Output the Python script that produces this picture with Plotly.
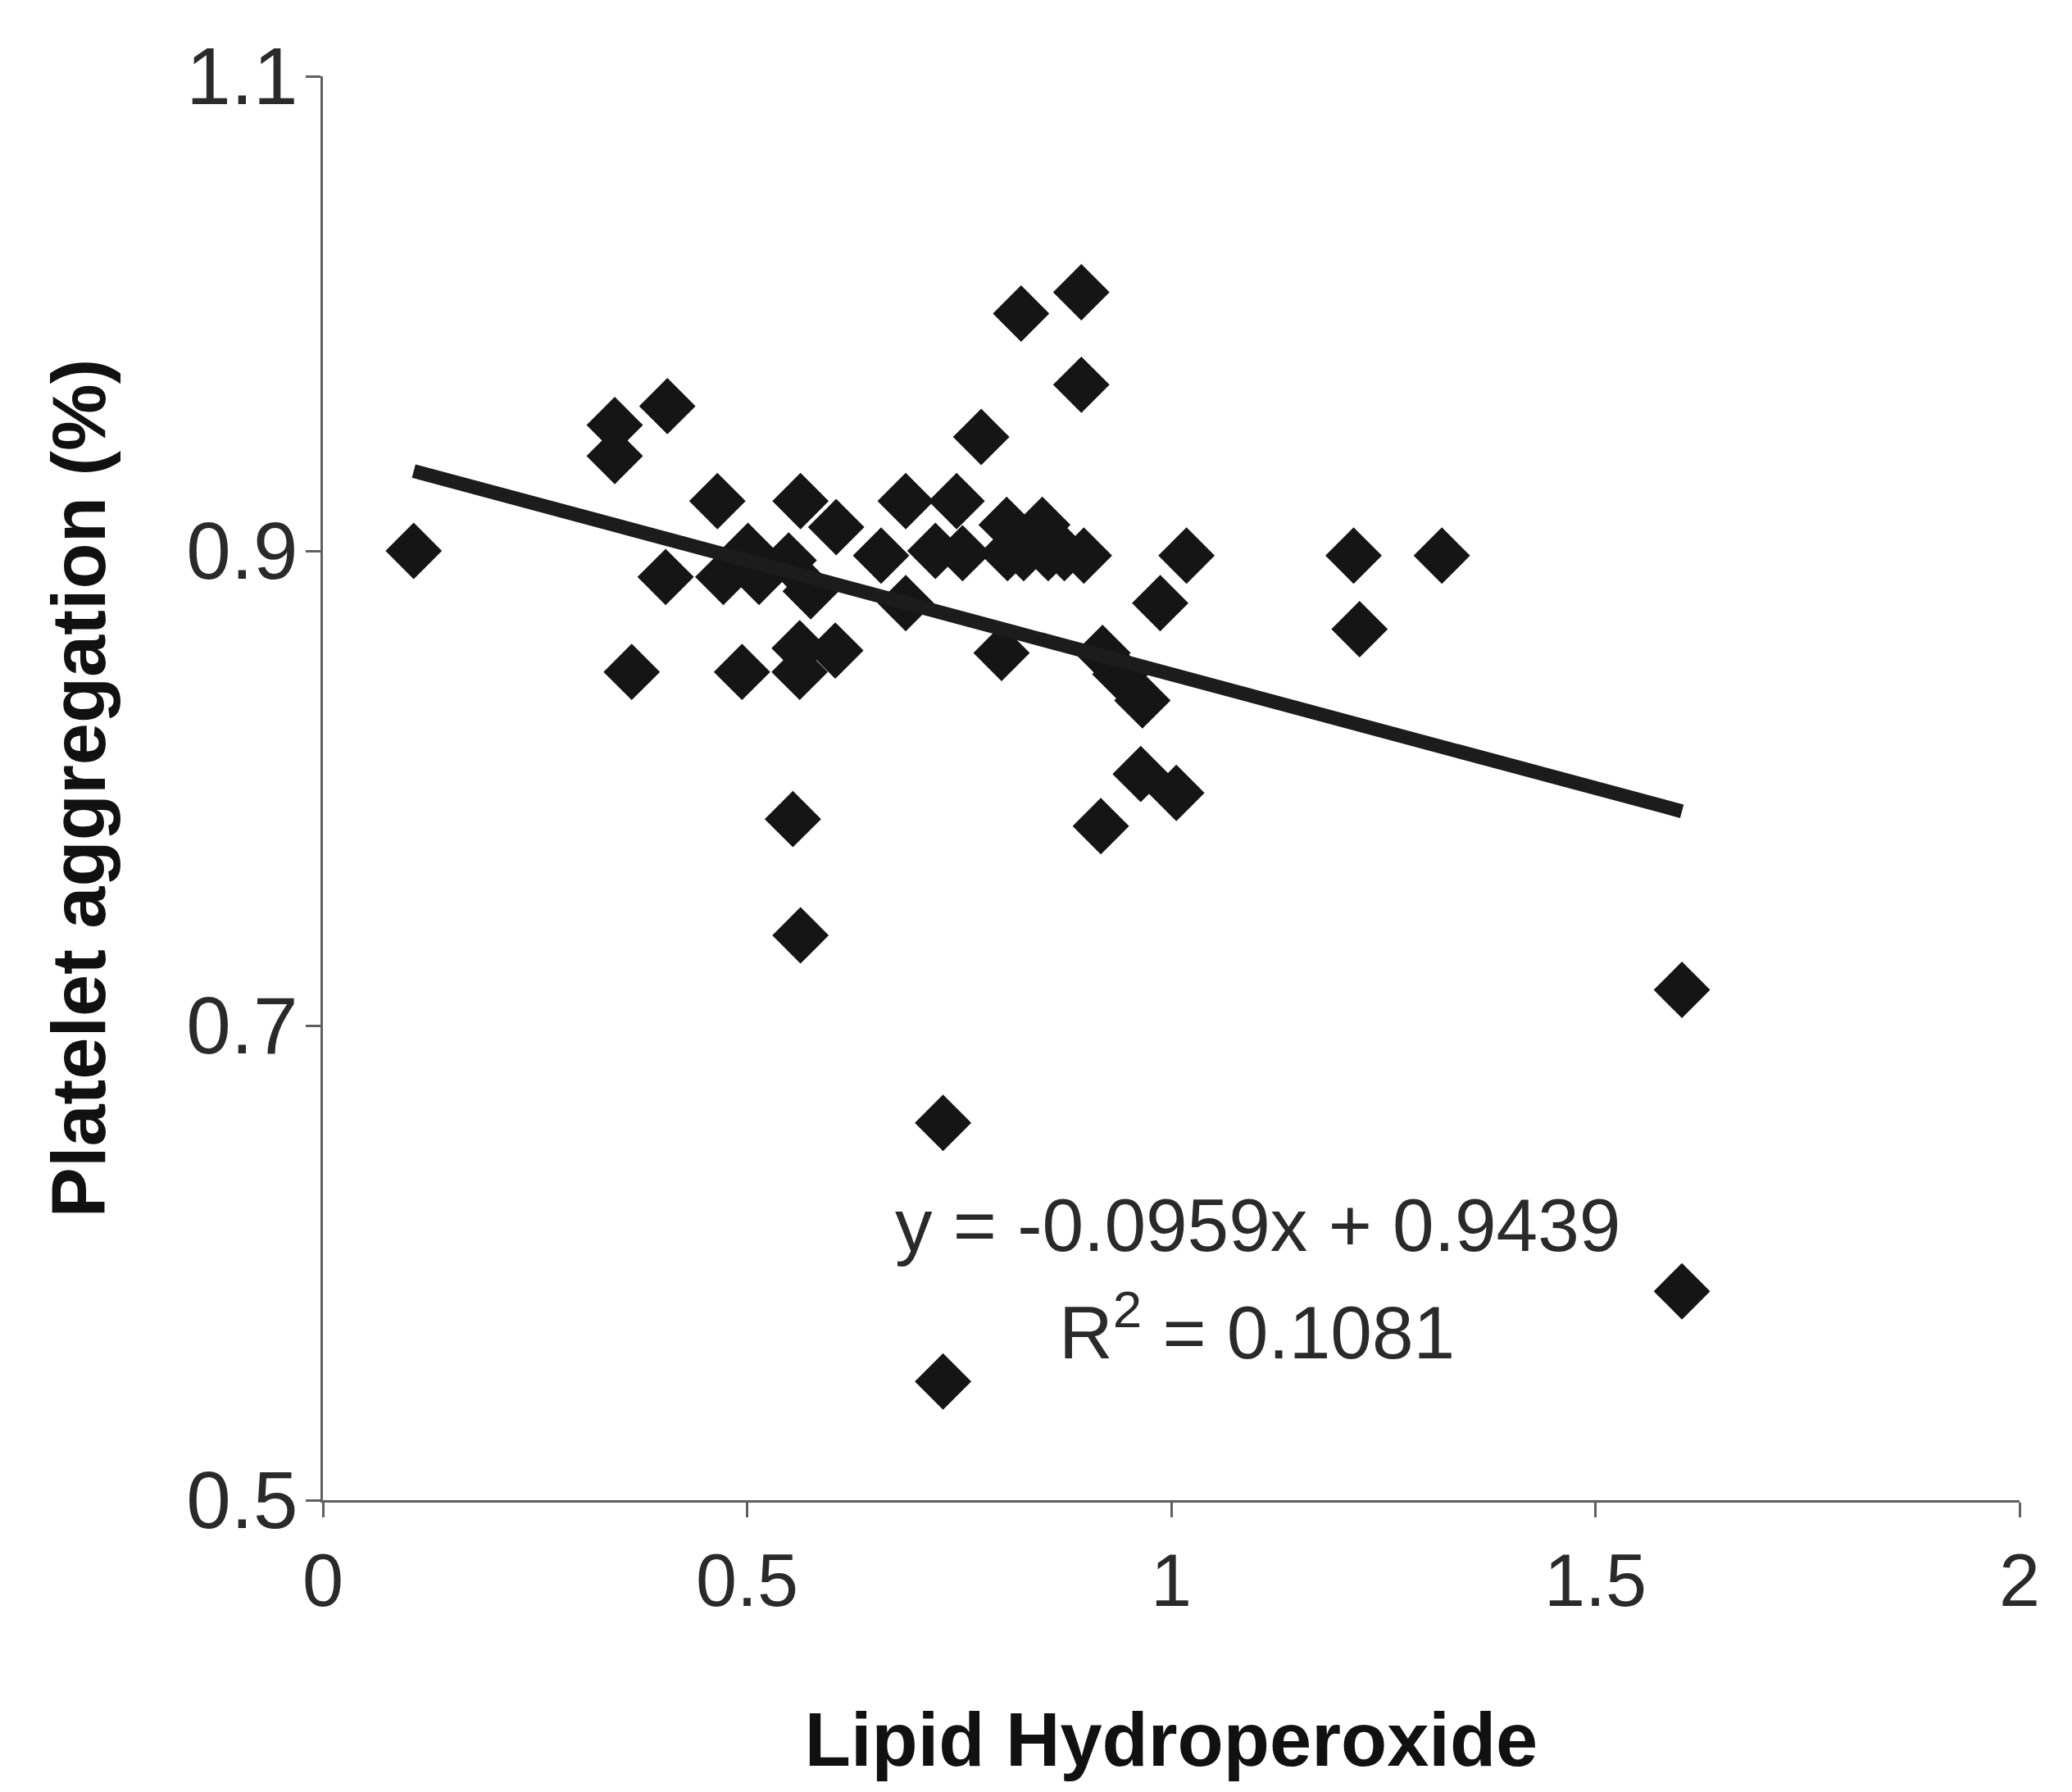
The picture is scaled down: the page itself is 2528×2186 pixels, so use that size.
import plotly.graph_objects as go

# Scatter data
lipid_hydroperoxide = [
    0.107, 0.344, 0.344, 0.406, 0.404, 0.364, 0.465, 0.472, 0.501, 0.514,
    0.494, 0.563, 0.605, 0.549, 0.575, 0.562, 0.604, 0.562, 0.554, 0.563,
    0.687, 0.747, 0.658, 0.687, 0.722, 0.754, 0.776, 0.806, 0.848, 0.807,
    0.826, 0.855, 0.874, 0.897, 0.800, 0.823, 0.894, 0.894, 0.919, 0.940,
    0.966, 0.987, 1.018, 0.964, 1.006, 0.917, 1.215, 1.222, 1.319, 1.602,
    1.602, 0.731, 0.731,
]
platelet_aggregation = [
    0.900, 0.953, 0.940, 0.961, 0.889, 0.849, 0.921, 0.889, 0.900, 0.889,
    0.849, 0.921, 0.910, 0.896, 0.883, 0.849, 0.858, 0.859, 0.787, 0.738,
    0.921, 0.921, 0.898, 0.878, 0.900, 0.899, 0.948, 0.911, 0.911, 0.899,
    0.899, 0.899, 0.899, 0.898, 0.857, 1.000, 1.009, 0.970, 0.857, 0.848,
    0.837, 0.878, 0.898, 0.806, 0.798, 0.784, 0.898, 0.867, 0.898, 0.715,
    0.588, 0.659, 0.550,
]

# Trendline from the printed equation
slope = -0.0959
intercept = 0.9439
r_squared = 0.1081

x_ticks = [0, 0.5, 1, 1.5, 2]
x_tick_labels = ["0", "0.5", "1", "1.5", "2"]
y_ticks = [0.5, 0.7, 0.9, 1.1]
y_tick_labels = ["0.5", "0.7", "0.9", "1.1"]

x_title = "Lipid Hydroperoxide"
y_title = "Platelet aggregation (%)"

FONT = "Liberation Sans, Arial, Helvetica, sans-serif"

x_line = [min(lipid_hydroperoxide), max(lipid_hydroperoxide)]
y_line = [slope * v + intercept for v in x_line]

fig = go.Figure()
fig.add_trace(go.Scatter(
    x=lipid_hydroperoxide, y=platelet_aggregation, mode="markers",
    marker=dict(symbol="diamond", size=53, color="#151515", line=dict(width=0)),
    showlegend=False,
))
fig.add_trace(go.Scatter(
    x=x_line, y=y_line, mode="lines",
    line=dict(color="#1c1c1c", width=17),
    showlegend=False,
))

fig.add_annotation(
    x=1.102, y=0.616, xref="x", yref="y", showarrow=False,
    text=f"y = {slope:.4f}x + {intercept:.4f}",
    font=dict(family=FONT, size=91, color="#2a2a2a"),
    xanchor="center", yanchor="middle",
)
fig.add_annotation(
    x=1.101, y=0.573, xref="x", yref="y", showarrow=False,
    text=f"R<sup>2</sup> = {r_squared:.4f}",
    font=dict(family=FONT, size=91, color="#2a2a2a"),
    xanchor="center", yanchor="middle",
)

fig.update_layout(
    width=2528, height=2186,
    margin=dict(l=386, r=72, t=85, b=364),
    paper_bgcolor="white", plot_bgcolor="white",
    font=dict(family=FONT, color="#2a2a2a"),
)
fig.update_xaxes(
    range=[0, 2], tickvals=x_ticks, ticktext=x_tick_labels,
    showgrid=False, zeroline=False,
    showline=True, linecolor="#606060", linewidth=3,
    ticks="outside", ticklen=18, tickwidth=3, tickcolor="#606060",
    tickfont=dict(family=FONT, size=90, color="#2a2a2a"),
    title=dict(text=f"<b>{x_title}</b>", font=dict(family=FONT, size=92, color="#111111"), standoff=113),
)
fig.update_yaxes(
    range=[0.5, 1.1], tickvals=y_ticks, ticktext=y_tick_labels,
    showgrid=False, zeroline=False,
    showline=True, linecolor="#606060", linewidth=3,
    ticks="outside", ticklen=18, tickwidth=3, tickcolor="#606060",
    ticklabelstandoff=-10,
    tickfont=dict(family=FONT, size=98, color="#2a2a2a"),
    title=dict(text=f"<b>{y_title}</b>", font=dict(family=FONT, size=92, color="#111111"), standoff=68),
)

fig.write_html("out.html")
